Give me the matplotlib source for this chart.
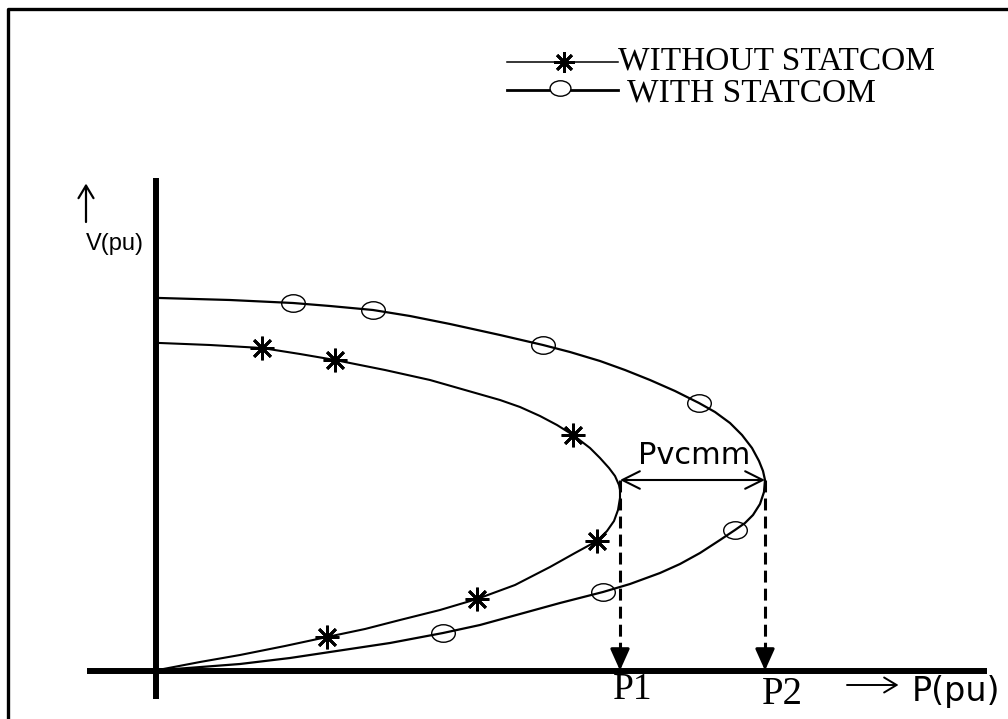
"""PV curves with and without STATCOM (schematic)."""

import matplotlib

matplotlib.use("Agg")
import matplotlib.pyplot as plt
from matplotlib.lines import Line2D
from matplotlib.markers import MarkerStyle
from matplotlib.path import Path
from matplotlib.transforms import Affine2D

# curve traces (arbitrary pu scale)
p_without = [0.0, 0.445, 0.845, 1.295, 1.715, 2.095, 2.445, 2.845, 3.215, 3.595,
             3.945, 4.195, 4.415, 4.515, 4.585, 4.625, 4.645, 4.645, 4.635, 4.595,
             4.535, 4.445, 4.345, 4.175, 4.015, 3.845, 3.645, 3.445, 3.095, 2.745,
             2.295, 1.795, 1.445, 1.065, 0.545, 0.045]
v_without = [0.0, 0.085, 0.155, 0.245, 0.335, 0.415, 0.505, 0.605, 0.715, 0.855,
             1.035, 1.175, 1.295, 1.395, 1.495, 1.605, 1.725, 1.805, 1.855, 1.945,
             2.025, 2.125, 2.225, 2.355, 2.455, 2.545, 2.635, 2.705, 2.805, 2.905,
             3.005, 3.105, 3.165, 3.225, 3.255, 3.275]

p_with = [0.0, 0.845, 1.345, 1.745, 2.345, 2.875, 3.245, 3.645, 4.045, 4.475,
          4.745, 5.045, 5.245, 5.445, 5.645, 5.795, 5.895, 5.975, 6.045, 6.085,
          6.095, 6.075, 6.035, 5.965, 5.865, 5.745, 5.595, 5.435, 5.195, 4.945,
          4.695, 4.445, 4.145, 3.875, 3.445, 2.945, 2.545, 2.175, 1.745, 1.375,
          0.745, 0.045]
v_with = [0.0, 0.065, 0.125, 0.185, 0.275, 0.375, 0.455, 0.565, 0.675, 0.785,
          0.865, 0.975, 1.065, 1.175, 1.305, 1.405, 1.475, 1.555, 1.665, 1.785,
          1.905, 1.995, 2.095, 2.225, 2.355, 2.475, 2.585, 2.675, 2.795, 2.905,
          3.005, 3.095, 3.185, 3.255, 3.355, 3.465, 3.545, 3.605, 3.645, 3.675,
          3.705, 3.725]

# marker positions
p_star = [1.065, 1.795, 4.175, 4.415, 3.215, 1.715]
v_star = [3.225, 3.105, 2.355, 1.295, 0.715, 0.335]
p_circ = [1.375, 2.175, 3.875, 5.435, 5.795, 4.475, 2.875]
v_circ = [3.675, 3.605, 3.255, 2.675, 1.405, 0.785, 0.375]

# nose points
p1, p2 = 4.645, 6.095
v_nose = 1.905

labels = ["WITHOUT STATCOM", "WITH STATCOM"]

W, H = 1008, 719
fig = plt.figure(figsize=(W / 100, H / 100), dpi=100)
fig.patch.set_facecolor("white")

# main drawing axes, origin of the P-V plane at pixel (155.5, 670.5)
ax = fig.add_axes([155.5 / W, 48.5 / H, 830 / W, 490 / H])
ax.set_xlim(0, 8.3)
ax.set_ylim(0, 4.9)
ax.set_axis_off()

ellipse = MarkerStyle(Path.unit_circle().transformed(Affine2D().scale(1.35, 1.0)))
star = (8, 2, 0)

# axes lines
ax.plot([0, 0], [-0.285, 4.925], color="black", lw=4.3, clip_on=False, solid_capstyle="butt")
ax.plot([-0.685, 8.315], [0, 0], color="black", lw=4.3, clip_on=False, solid_capstyle="butt")

ax.plot(p_without, v_without, color="black", lw=1.5, clip_on=False)
ax.plot(p_with, v_with, color="black", lw=1.6, clip_on=False)
ax.plot(p_star, v_star, ls="none", marker=star, ms=17, mew=2.0, color="black")
ax.plot(p_circ, v_circ, ls="none", marker=ellipse, ms=17, mew=1.0,
        mfc="none", mec="black")

# dashed drops to the P axis
for p in (p1, p2):
    ax.plot([p, p], [v_nose, 0.2], color="black", lw=2.2, ls=(0, (3.9, 2.0)))
    ax.annotate("", xy=(p, 0.0), xytext=(p, 0.2),
                arrowprops=dict(arrowstyle="-|>,head_length=1.0,head_width=0.45",
                                color="black", lw=2.2, mutation_scale=13,
                                shrinkA=0, shrinkB=0))

ax.annotate("", xy=(p1, v_nose), xytext=(p2, v_nose),
            arrowprops=dict(arrowstyle="<->,head_length=0.7,head_width=0.35",
                            color="black", lw=1.5, mutation_scale=18,
                            shrinkA=0, shrinkB=0))
ax.text((p1 + p2) / 2 + 0.02, v_nose + 0.25, "Pvcmm", ha="center", va="center",
        fontsize=22, family="DejaVu Sans")

ax.text(p1 + 0.13, -0.195, "P1", ha="center", va="center", fontsize=27,
        family="Liberation Serif", clip_on=False)
ax.text(p2 + 0.17, -0.235, "P2", ha="center", va="center", fontsize=28,
        family="Liberation Serif", clip_on=False)

# axis labels
ax.annotate("", xy=(-0.695, 4.87), xytext=(-0.695, 4.485),
            arrowprops=dict(arrowstyle="->,head_length=0.5,head_width=0.3",
                            color="black", lw=1.6, mutation_scale=18,
                            shrinkA=0, shrinkB=0), annotation_clip=False)
ax.text(-0.405, 4.265, "V(pu)", ha="center", va="center", fontsize=17,
        family="Liberation Sans", clip_on=False)
ax.annotate("", xy=(7.43, -0.145), xytext=(6.915, -0.145),
            arrowprops=dict(arrowstyle="->,head_length=0.5,head_width=0.3",
                            color="black", lw=1.4, mutation_scale=18,
                            shrinkA=0, shrinkB=0), annotation_clip=False)
ax.text(8.005, -0.215, "P(pu)", ha="center", va="center", fontsize=24,
        family="DejaVu Sans", clip_on=False)

# overlay in pixel coordinates: frame and hand-drawn legend
ov = fig.add_axes([0, 0, 1, 1])
ov.set_xlim(0, W)
ov.set_ylim(H, 0)
ov.set_axis_off()
ov.patch.set_alpha(0)

ov.add_line(Line2D([8, 8, W], [H, 9, 9], color="black", lw=2.4))

ov.add_line(Line2D([507, 618], [62, 62], color="black", lw=1.1))
ov.plot([564], [62], marker=star, ms=15, mew=2.0, color="black")
ov.add_line(Line2D([507, 618], [90, 90], color="black", lw=2.0))
ov.plot([560], [88], marker=ellipse, ms=15, mew=1.0, mfc="white", mec="black")
ov.text(618, 70, labels[0], ha="left", va="baseline", fontsize=24,
        family="Liberation Serif")
ov.text(627, 101, labels[1], ha="left", va="baseline", fontsize=24,
        family="Liberation Serif")

fig.savefig("out.png", dpi=100)
